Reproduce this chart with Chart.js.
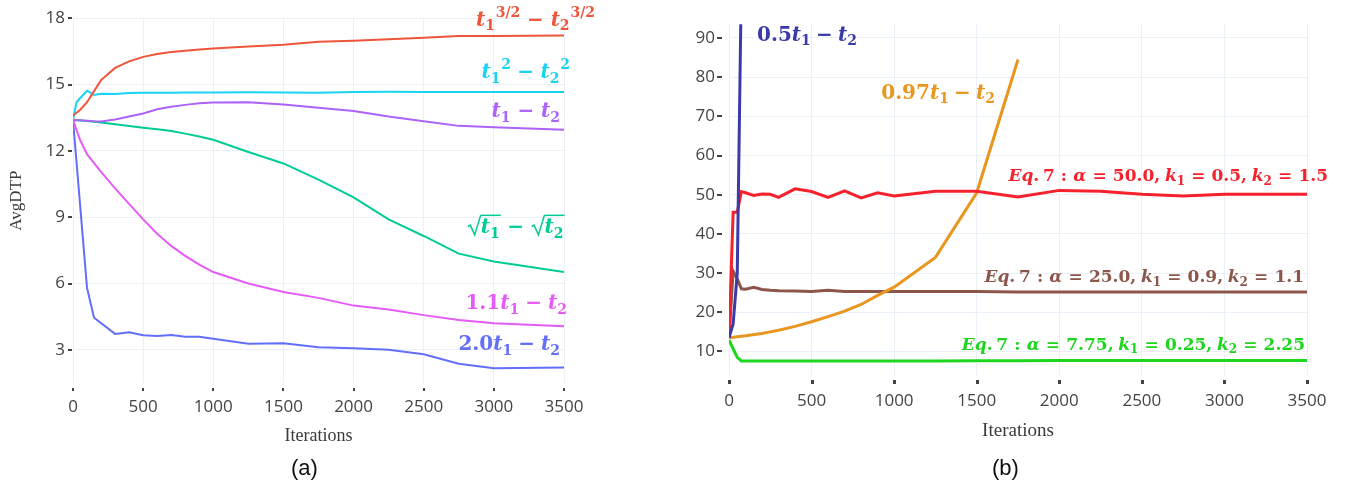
<!DOCTYPE html>
<html>
<head>
<meta charset="utf-8">
<script src="https://cdn.jsdelivr.net/npm/chart.js@4.4.1/dist/chart.umd.min.js"></script>
<style>
  body { margin: 0; background: #fff; width: 1351px; height: 488px; overflow: hidden; position: relative; }
  #chartA { position: absolute; left: 0; top: 0; }
  #chartB { position: absolute; left: 680px; top: 0; }
  .cap { position: absolute; top: 455px; font: 22px 'Liberation Sans', Arial, sans-serif; color: #111; }
</style>
</head>
<body>
<canvas id="chartA" width="640" height="460"></canvas>
<canvas id="chartB" width="671" height="460"></canvas>
<div class="cap" style="left:291px">(a)</div>
<div class="cap" style="left:992px">(b)</div>
<script>
// ---- (a) AvgDTP vs iterations, null = no sample at that iteration
const itersA = [0, 25, 50, 100, 150, 200, 300, 400, 500, 600, 700, 800, 900, 1000, 1250, 1500, 1750, 2000, 2250, 2500, 2750, 3000, 3500];
const pow32A = [13.6, null, 13.85, 14.2, 14.7, 15.2, 15.75, 16.05, 16.25, 16.38, 16.47, 16.53, 16.58, 16.63, 16.72, 16.8, 16.93, 16.98, 17.05, 17.12, 17.2, 17.2, 17.22];
const squareA = [13.4, 14.2, 14.38, 14.72, 14.53, 14.58, 14.57, 14.62, 14.63, 14.63, 14.63, 14.64, 14.64, 14.64, 14.65, 14.64, 14.63, 14.66, 14.67, 14.66, 14.66, 14.66, 14.66];
const linearA = [13.4, null, 13.38, 13.36, 13.34, 13.33, 13.42, 13.55, 13.69, 13.88, 13.99, 14.08, 14.15, 14.19, 14.2, 14.1, 13.95, 13.8, 13.55, 13.34, 13.13, 13.07, 12.96];
const sqrtA = [13.4, null, null, 13.35, null, 13.28, 13.2, 13.12, 13.05, 12.98, 12.9, 12.78, 12.65, 12.5, 11.95, 11.43, 10.7, 9.9, 8.9, 8.15, 7.35, 7.0, 6.52];
const lin11A = [13.4, null, 12.5, 11.85, 11.45, 11.05, 10.3, 9.6, 8.9, 8.25, 7.7, 7.25, 6.85, 6.52, 6.0, 5.62, 5.35, 5.0, 4.82, 4.57, 4.35, 4.2, 4.07];
const lin20A = [13.4, null, null, 5.8, 4.45, null, 3.72, 3.8, 3.66, 3.63, 3.67, 3.59, 3.59, 3.5, 3.28, 3.3, 3.12, 3.07, 3.0, 2.8, 2.37, 2.17, 2.2];

// ---- (b)
const itersB = [0, 25, 50, 75, 100, 150, 200, 250, 300, 400, 500, 600, 700, 800, 900, 1000, 1250, 1500, 1750, 2000, 2250, 2500, 2750, 3000, 3500];
const lin05B = [13.5, 17, 30, 105, null, null, null, null, null, null, null, null, null, null, null, null, null, null, null, null, null, null, null, null, null];
const lin097B = [13.5, null, null, null, 14.0, null, 14.6, 15.0, 15.4, 16.4, 17.6, 18.9, 20.3, 22.0, 24.3, 26.4, 34.0, 50.5, 84.5, null, null, null, null, null, null];
const eqRedB = [13.5, 45.5, 45.5, 50.8, 50.5, 49.8, 50.2, 50.1, 49.3, 51.5, 50.8, 49.3, 51.0, 49.2, 50.5, 49.7, 50.9, 50.9, 49.4, 51.1, 50.9, 50.1, 49.7, 50.1, 50.1];
const eqBrownB = [13.5, 30.5, 28.5, 26.0, 25.9, 26.4, 25.8, 25.6, 25.5, 25.4, 25.3, 25.6, 25.3, 25.3, 25.3, 25.3, 25.3, 25.3, 25.2, 25.2, 25.2, 25.2, 25.2, 25.2, 25.2];
const eqGreenB = [12.9, 10.7, 8.5, 7.6, 7.6, 7.6, 7.6, 7.55, 7.55, 7.55, 7.55, 7.55, 7.55, 7.55, 7.55, 7.6, 7.6, 7.65, 7.65, 7.7, 7.7, 7.7, 7.7, 7.7, 7.7];

const xTicks = [0, 500, 1000, 1500, 2000, 2500, 3000, 3500];

// math labels: [text, kind]  i=italic, n=upright, b=subscript, p=superscript, o=binary op, c=comma, s=spaced, r/e=radical start/end
const texPow32 = [['t','i'],['1','b'],['3/2','p'],['\u2212','o'],['t','i'],['2','b'],['3/2','p']];
const texSquare = [['t','i'],['1','b'],['2','p'],['\u2212','o'],['t','i'],['2','b'],['2','p']];
const texLinear = [['t','i'],['1','b'],['\u2212','o'],['t','i'],['2','b']];
const texSqrt = [['','r'],['t','i'],['1','b'],['','e'],['\u2212','o'],['','r'],['t','i'],['2','b'],['','e']];
const texLin11 = [['1.1','n'],['t','i'],['1','b'],['\u2212','o'],['t','i'],['2','b']];
const texLin20 = [['2.0','n'],['t','i'],['1','b'],['\u2212','o'],['t','i'],['2','b']];
const texLin05 = [['0.5','n'],['t','i'],['1','b'],['\u2212','o'],['t','i'],['2','b']];
const texLin097 = [['0.97','n'],['t','i'],['1','b'],['\u2212','o'],['t','i'],['2','b']];
function texEq(a, k1, k2) {
  return [['E','i'],['q','i'],['.','n'],['7','s'],[':','o'],['\u03b1','i'],['=','o'],[a,'n'],[',','c'],
          ['k','i'],['1','b'],['=','o'],[k1,'n'],[',','c'],['k','i'],['2','b'],['=','o'],[k2,'n']];
}

const SERIF = "'Liberation Serif', 'DejaVu Serif', serif";
const MATH = "'DejaVu Serif', serif";

function partFont(k, size) {
  if (k === 'i') return `italic bold ${size}px ${MATH}`;
  if (k === 'b' || k === 'p') return `bold ${Math.round(size * 0.72)}px ${MATH}`;
  return `bold ${size}px ${MATH}`;
}

function mathRun(ctx, parts, size, opGap, x0, y0, draw) {
  let x = x0, radStart = 0;
  ctx.lineWidth = Math.max(1.2, size * 0.075);
  for (const [txt, k] of parts) {
    if (k === 'r') {
      if (draw) {
        ctx.beginPath();
        ctx.moveTo(x + size * 0.08, y0 - size * 0.34);
        ctx.lineTo(x + size * 0.2, y0 - size * 0.41);
        ctx.lineTo(x + size * 0.42, y0 + size * 0.08);
        ctx.lineTo(x + size * 0.72, y0 - size * 0.9);
        ctx.stroke();
      }
      x += size * 0.72;
      radStart = x;
      continue;
    }
    if (k === 'e') {
      if (draw) {
        ctx.beginPath();
        ctx.moveTo(radStart, y0 - size * 0.9);
        ctx.lineTo(x + size * 0.06, y0 - size * 0.9);
        ctx.stroke();
      }
      x += size * 0.08;
      continue;
    }
    ctx.font = partFont(k, size);
    const w = ctx.measureText(txt).width;
    let pre = 0, post = 0;
    if (k === 'o') { pre = post = size * opGap; }
    if (k === 'c') { post = size * 0.28; }
    if (k === 's') { pre = size * 0.22; }
    if (k === 'p') { pre = size * 0.04; }
    x += pre;
    if (draw) {
      const dy = k === 'b' ? size * 0.22 : k === 'p' ? -size * 0.45 : 0;
      ctx.fillText(txt, x, y0 + dy);
    }
    x += w + post;
  }
  return x - x0;
}

function drawMath(ctx, l, xRight, yBase) {
  ctx.save();
  ctx.textBaseline = 'alphabetic';
  ctx.textAlign = 'left';
  ctx.fillStyle = l.color;
  ctx.strokeStyle = l.color;
  const w = mathRun(ctx, l.tex, l.size, l.gap, 0, 0, false);
  mathRun(ctx, l.tex, l.size, l.gap, xRight - w, yBase, true);
  ctx.restore();
}

// outside tick marks (detached from the plot like the original) + curve labels
function makeDecor(labels, tk) {
  return {
    id: 'decor',
    afterDraw(chart) {
      const ctx = chart.ctx;
      const xs = chart.scales.x, ys = chart.scales.y;
      ctx.save();
      ctx.fillStyle = '#444';
      ys.ticks.forEach(t => {
        const py = Math.round(ys.getPixelForValue(t.value));
        ctx.fillRect(xs.left - tk.yOff, py - 1, tk.yLen, 2);
      });
      xs.ticks.forEach(t => {
        const px = Math.round(xs.getPixelForValue(t.value));
        ctx.fillRect(px - 1, ys.bottom + tk.xOff, tk.xW, tk.xLen);
      });
      ctx.restore();
      labels.forEach(l => drawMath(ctx, l, xs.getPixelForValue(l.x), ys.getPixelForValue(l.y)));
    }
  };
}

function pts(xs, ys) {
  return xs.map((x, i) => ({ x: x, y: ys[i] }));
}

function line(data, color, width) {
  return { data: pts(data[0], data[1]), borderColor: color, borderWidth: width, pointRadius: 0, tension: 0, fill: false, spanGaps: true };
}

const tickFont = { family: "'Open Sans', 'DejaVu Sans', sans-serif", size: 17 };
const gridColor = '#EBF0F8';

function axes(o) {
  return {
    x: {
      type: 'linear', min: 0, max: 3500,
      afterFit: s => { s.height = o.xH; },
      afterBuildTicks: s => { s.ticks = xTicks.map(v => ({ value: v })); },
      ticks: { padding: o.xPad, color: '#444', font: tickFont, maxRotation: 0, autoSkip: false, callback: v => String(v) },
      grid: { color: gridColor, drawTicks: false, lineWidth: 1 },
      border: { display: false },
      title: { display: true, text: 'Iterations', color: '#3a3a3a', font: { family: SERIF, size: o.titleSize }, padding: { top: 0, bottom: o.titlePad } }
    },
    y: {
      type: 'linear', min: o.yMin, max: o.yMax,
      afterFit: s => { s.width = o.yW; },
      ticks: { stepSize: o.yStep, includeBounds: false, padding: o.yPad, color: '#444', font: tickFont },
      grid: { color: gridColor, drawTicks: false, lineWidth: 1 },
      border: { display: false },
      title: { display: !!o.yTitle, text: o.yTitle || '', color: '#3a3a3a', font: { family: SERIF, size: 17 }, padding: { top: 6, bottom: 0 } }
    }
  };
}

const baseOpts = {
  responsive: false,
  animation: false,
  devicePixelRatio: 1,
  plugins: { legend: { display: false }, tooltip: { enabled: false } }
};

const labelsA = [
  { tex: texPow32, color: '#EF553B', x: 3721, y: 17.66, size: 20, gap: 0.34 },
  { tex: texSquare, color: '#19D3F3', x: 3543, y: 15.29, size: 20, gap: 0.32 },
  { tex: texLinear, color: '#AB63FA', x: 3471, y: 13.52, size: 20, gap: 0.34 },
  { tex: texSqrt, color: '#00CC96', x: 3507, y: 8.27, size: 20, gap: 0.3 },
  { tex: texLin11, color: '#E45CF5', x: 3521, y: 4.83, size: 20, gap: 0.3 },
  { tex: texLin20, color: '#636EFA', x: 3471, y: 2.98, size: 20, gap: 0.3 }
];

new Chart(document.getElementById('chartA'), {
  type: 'line',
  data: {
    datasets: [
      line([itersA, pow32A], '#EF553B', 2),
      line([itersA, squareA], '#19D3F3', 2),
      line([itersA, linearA], '#AB63FA', 2),
      line([itersA, sqrtA], '#00CC96', 2),
      line([itersA, lin11A], '#E45CF5', 2),
      line([itersA, lin20A], '#636EFA', 2)
    ]
  },
  options: Object.assign({}, baseOpts, {
    layout: { padding: { top: 18, right: 76, left: 0, bottom: 0 } },
    scales: axes({ xH: 77, xPad: 14, titleSize: 18, titlePad: 13, yMin: 1.5, yMax: 18, yStep: 3, yW: 73, yPad: 8, yTitle: 'AvgDTP' })
  }),
  plugins: [makeDecor(labelsA, { yOff: 5, yLen: 4, xOff: 5, xLen: 3, xW: 2 })]
});

const labelsB = [
  { tex: texLin05, color: '#3A3AA8', x: 775, y: 89.2, size: 20, gap: 0.26 },
  { tex: texLin097, color: '#E8961E', x: 1611, y: 74.5, size: 20, gap: 0.26 },
  { tex: texEq('50.0', '0.5', '1.5'), color: '#F5222D', x: 3627, y: 53.5, size: 17, gap: 0.36 },
  { tex: texEq('25.0', '0.9', '1.1'), color: '#8C564B', x: 3482, y: 27.7, size: 17, gap: 0.36 },
  { tex: texEq('7.75', '0.25', '2.25'), color: '#1ED61E', x: 3488, y: 10.5, size: 17, gap: 0.36 }
];

new Chart(document.getElementById('chartB'), {
  type: 'line',
  data: {
    datasets: [
      line([itersB, lin05B], '#3A3AA8', 3),
      line([itersB, eqRedB], '#F5222D', 3),
      line([itersB, lin097B], '#E8961E', 3),
      line([itersB, eqBrownB], '#8C564B', 3),
      line([itersB, eqGreenB], '#1ED61E', 3)
    ]
  },
  options: Object.assign({}, baseOpts, {
    layout: { padding: { top: 14, right: 44, left: 0, bottom: 0 } },
    scales: axes({ xH: 85, xPad: 16, titleSize: 19, titlePad: 18, yMin: 4, yMax: 93.5, yStep: 10, yW: 49, yPad: 14 })
  }),
  plugins: [makeDecor(labelsB, { yOff: 12, yLen: 5, xOff: 5, xLen: 4, xW: 3 })]
});
</script>
</body>
</html>
